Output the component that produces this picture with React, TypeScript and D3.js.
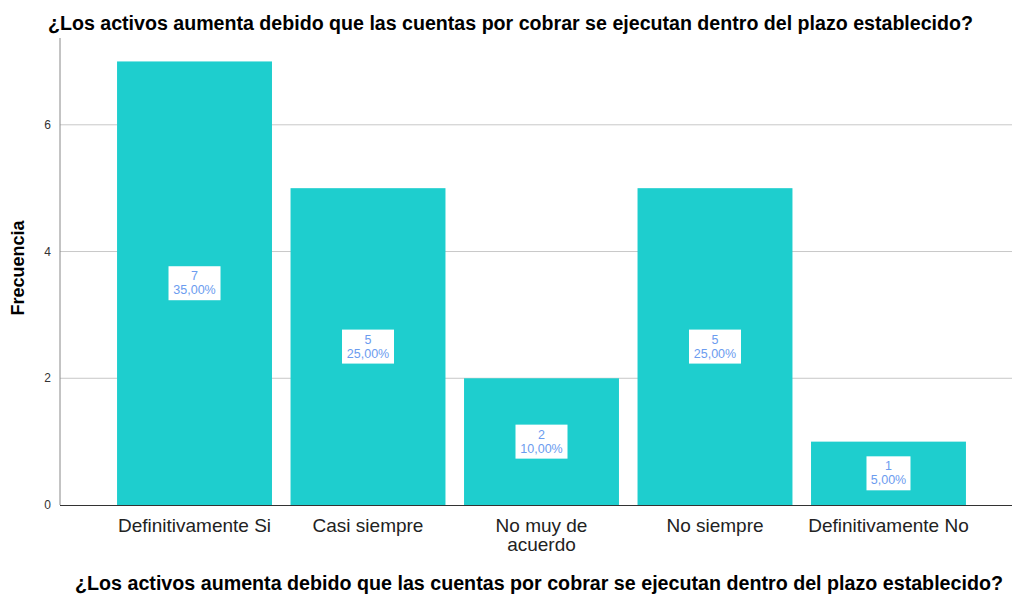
import React from "react";
import * as d3 from "d3";

const categories = ["Definitivamente Si", "Casi siempre", "No muy de acuerdo", "No siempre", "Definitivamente No"];
const categoryLines = [["Definitivamente Si"], ["Casi siempre"], ["No muy de", "acuerdo"], ["No siempre"], ["Definitivamente No"]];
const counts = [7, 5, 2, 5, 1];
const percents = ["35,00%", "25,00%", "10,00%", "25,00%", "5,00%"];
const yTicks = [0, 2, 4, 6];
const title = "¿Los activos aumenta debido que las cuentas por cobrar se ejecutan dentro del plazo establecido?";

export default function App() {
  const W = 1014, H = 594;
  const left = 60, right = 1012, top = 38, bottom = 505;
  const y = d3.scaleLinear().domain([0, 7.37]).range([bottom, top]);
  const x = d3.scaleBand<string>().domain(categories).range([65, 1018]).paddingInner(0.107).paddingOuter(0.3);
  const font = "'Liberation Sans', Arial, sans-serif";
  return (
    <svg width={W} height={H} style={{ position: "absolute", left: 0, top: 0, background: "#fff" }} fontFamily={font}>
      <text x={48} y={30} fontSize={19.5} fontWeight="bold" fill="#000" textLength={925} lengthAdjust="spacingAndGlyphs">{title}</text>
      {yTicks.filter(t => t > 0).map(t => (
        <line key={t} x1={left} x2={right} y1={y(t)} y2={y(t)} stroke="#c8c8c8" strokeWidth={1} />
      ))}
      {yTicks.map(t => (
        <text key={t} x={51} y={y(t) + 4} fontSize={12} textAnchor="end" fill="#333">{t}</text>
      ))}
      {categories.map((c, i) => {
        const bx = x(c)!;
        const bw = x.bandwidth();
        const by = y(counts[i]);
        const cy = (by + bottom) / 2;
        const cx = bx + bw / 2;
        const boxW = percents[i].length > 5 ? 52 : 44;
        return (
          <g key={c}>
            <rect x={bx} y={by} width={bw} height={bottom - by} fill="#1ecece" />
            <rect x={cx - boxW / 2} y={cy - 17} width={boxW} height={34} fill="#fff" />
            <text x={cx} y={cy - 3} fontSize={12.5} textAnchor="middle" fill="#6b9cef">{counts[i]}</text>
            <text x={cx} y={cy + 11} fontSize={12.5} textAnchor="middle" fill="#6b9cef">{percents[i]}</text>
            {categoryLines[i].map((l, j) => (
              <text key={j} x={cx} y={532 + j * 19} fontSize={19} textAnchor="middle" fill="#222">{l}</text>
            ))}
          </g>
        );
      })}
      <line x1={left} x2={left} y1={top} y2={bottom} stroke="#888" strokeWidth={1} />
      <line x1={left} x2={right} y1={bottom + 0.5} y2={bottom + 0.5} stroke="#333" strokeWidth={1} />
      <text transform={`translate(24,268) rotate(-90)`} fontSize={18} fontWeight="bold" textAnchor="middle" fill="#000">Frecuencia</text>
      <text x={75} y={590} fontSize={19.5} fontWeight="bold" fill="#000" textLength={928} lengthAdjust="spacingAndGlyphs">{title}</text>
    </svg>
  );
}
